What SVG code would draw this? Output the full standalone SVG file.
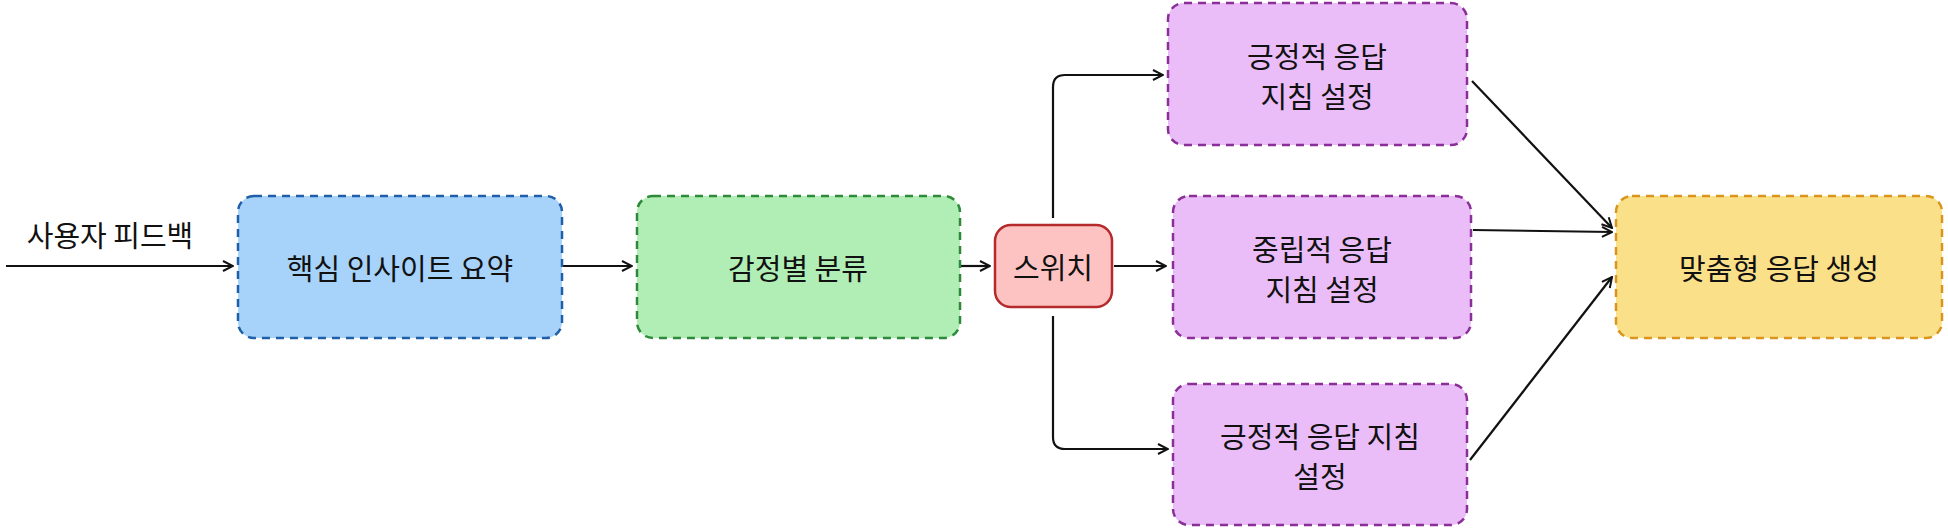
<svg xmlns="http://www.w3.org/2000/svg" width="1948" height="528" viewBox="0 0 1948 528">
<style>
text{font-family:"Noto Sans CJK KR","Noto Sans",sans-serif;font-size:29px;fill:#111;text-anchor:middle;dominant-baseline:central}
.n{stroke-width:2.5;stroke-dasharray:8 6}
.c{fill:none;stroke:#111;stroke-width:2.2;marker-end:url(#a)}
</style>
<defs><marker id="a" viewBox="0 0 12 12" refX="11" refY="6" markerWidth="12" markerHeight="12" markerUnits="userSpaceOnUse" orient="auto"><path d="M1 1L11 6L1 11" fill="none" stroke="#111" stroke-width="2"/></marker></defs>
<rect width="1948" height="528" fill="#fff"/>
<g id="connectors">
<path class="c" d="M6 266H233"/>
<path class="c" d="M563 266H632"/>
<path class="c" d="M961 266H990"/>
<path class="c" d="M1114 266H1166"/>
<path class="c" d="M1053 218V87Q1053 75 1065 75H1163"/>
<path class="c" d="M1053 316V437Q1053 449 1065 449H1168"/>
<path class="c" d="M1472 81L1612 228"/>
<path class="c" d="M1473 230L1612 232"/>
<path class="c" d="M1470 460L1612 277"/>
</g>
<g id="input"><text x="110" y="234">사용자 피드백</text></g>
<g id="n1"><rect class="n" x="238" y="196" width="324" height="142" rx="16" fill="#a7d3fb" stroke="#1f5fa8"/><text x="400" y="267">핵심 인사이트 요약</text></g>
<g id="n2"><rect class="n" x="637" y="196" width="323" height="142" rx="16" fill="#b1eeb5" stroke="#2e8a3a"/><text x="798" y="267">감정별 분류</text></g>
<g id="sw"><rect x="995" y="225" width="117" height="82" rx="16" fill="#fdc3c3" stroke="#b52a2a" stroke-width="2.5"/><text x="1053" y="266">스위치</text></g>
<g id="p1"><rect class="n" x="1168" y="3" width="299" height="142" rx="16" fill="#ebbdf8" stroke="#8a2f98"/><text x="1317" y="55">긍정적 응답</text><text x="1317" y="95">지침 설정</text></g>
<g id="p2"><rect class="n" x="1173" y="196" width="298" height="142" rx="16" fill="#ebbdf8" stroke="#8a2f98"/><text x="1322" y="248">중립적 응답</text><text x="1322" y="288">지침 설정</text></g>
<g id="p3"><rect class="n" x="1173" y="384" width="294" height="141" rx="16" fill="#ebbdf8" stroke="#8a2f98"/><text x="1320" y="435">긍정적 응답 지침</text><text x="1320" y="475">설정</text></g>
<g id="out"><rect class="n" x="1616" y="196" width="326" height="142" rx="16" fill="#fbe08a" stroke="#d9951e"/><text x="1779" y="267">맞춤형 응답 생성</text></g>
</svg>
